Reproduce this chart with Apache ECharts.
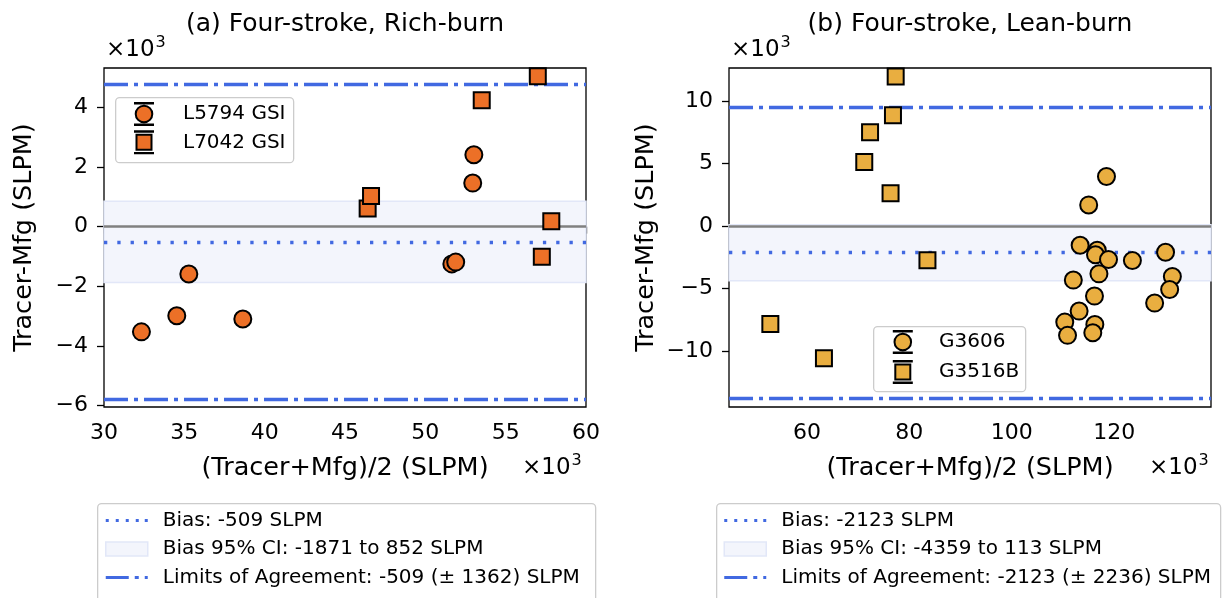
<!DOCTYPE html>
<html><head><meta charset="utf-8">
<script src="https://cdn.jsdelivr.net/npm/echarts@6/dist/echarts.min.js"></script>
<style>html,body{margin:0;padding:0;background:#fff}#c{width:1225px;height:598px}</style>
</head><body><div id="c"></div>
<script>
// ---------- text ----------
const panelTitles = ['(a) Four-stroke, Rich-burn', '(b) Four-stroke, Lean-burn'];
const yAxisTitle = 'Tracer-Mfg (SLPM)';
const xAxisTitle = '(Tracer+Mfg)/2 (SLPM)';

// ---------- panel (a) data (SLPM) ----------
const aCircleName = 'L5794 GSI';
const aCircleX = [32330, 34530, 35280, 38640, 51650, 51890, 53020, 52950];
const aCircleY = [-3530, -2990, -1590, -3100, -1250, -1190, 2410, 1460];
const aSquareName = 'L7042 GSI';
const aSquareX = [46410, 46620, 53510, 57000, 57840, 57250];
const aSquareY = [610, 1030, 4240, 5040, 180, -1010];
const aBias = -509, aCiLow = -1871, aCiHigh = 852, aLoaUp = 4770, aLoaLow = -5790;
const aLegendTexts = ['Bias: -509 SLPM', 'Bias 95% CI: -1871 to 852 SLPM', 'Limits of Agreement: -509 (\u00b1 1362) SLPM'];
const aXTicks = [30000, 35000, 40000, 45000, 50000, 55000, 60000];
const aYTicks = [-6000, -4000, -2000, 0, 2000, 4000];

// ---------- panel (b) data (SLPM) ----------
const bCircleName = 'G3606';
const bCircleX = [118470, 115000, 113330, 116670, 116330, 118870, 123530, 130000, 117000, 112000, 131330, 130800, 116130, 127870, 113130, 110330, 116200, 110870, 115800];
const bCircleY = [3970, 1700, -1520, -1920, -2290, -2660, -2740, -2080, -3810, -4310, -4020, -5060, -5590, -6150, -6790, -7670, -7860, -8730, -8520];
const bSquareName = 'G3516B';
const bSquareX = [77330, 76800, 72330, 71200, 76330, 83530, 52870, 63330];
const bSquareY = [11980, 8870, 7510, 5140, 2640, -2720, -7830, -10570];
const bBias = -2123, bCiLow = -4359, bCiHigh = 113, bLoaUp = 9480, bLoaLow = -13770;
const bLegendTexts = ['Bias: -2123 SLPM', 'Bias 95% CI: -4359 to 113 SLPM', 'Limits of Agreement: -2123 (\u00b1 2236) SLPM'];
const bXTicks = [60000, 80000, 100000, 120000];
const bYTicks = [-10000, -5000, 0, 5000, 10000];

// ---------- styling ----------
const FONT = 'DejaVu Sans';
const BLUE = '#4169E1';
const BAND = '#F3F5FC', BAND_EDGE = '#E2E7F8';
const ZERO = '#808080';
const colA = '#EC7027', colB = '#E9AE40';

const fmt = v => { const t = Math.round(v / 10) / 100; return (t < 0 ? '\u2212' : '') + Math.abs(t); };

// bottom-legend icons drawn in a 62x15 box (visible part 42 px wide, centred)
const ICON_DOT = 'path://M0,0 M62,15 M10,6h3v3h-3z M20,6h3v3h-3z M30,6h3v3h-3z M40,6h3v3h-3z M49,6h3v3h-3z';
const ICON_DASHDOT = 'path://M0,0 M62,15 M10,6h23v3h-23z M39,6h4v3h-4z M49,6h3v3h-3z';
const ICON_BAND = 'path://M0,0 M62,15 M10,0.5h42v14h-42z';
// marker legend icons (marker + error-bar caps)
function capIcon(w, square) {
  const c = w / 2;
  const caps = 'M' + (c - 9) + ',0h18v0.4h-18z M' + (c - 9) + ',21.6h18v0.4h-18z ';
  const body = square ? ('M' + (c - 7.5) + ',3.5h15v15h-15z')
                      : ('M' + (c - 8.3) + ',11a8.3,8.3 0 1,0 16.6,0a8.3,8.3 0 1,0 -16.6,0z');
  return 'path://M0,0 M' + w + ',22 ' + caps + body;
}

function xy(xs, ys) { return xs.map((x, k) => [x, ys[k]]); }

function panelSeries(i, p) {
  const ml = (style, vals) => ({
    silent: true, symbol: ['none', 'none'], label: { show: false }, animation: false,
    emphasis: { disabled: true }, lineStyle: style, data: vals.map(v => ({ yAxis: v }))
  });
  return [
    { name: p.legend[1], type: 'line', xAxisIndex: i, yAxisIndex: i, data: [], color: BAND, z: 1,
      markArea: { silent: true, animation: false, itemStyle: { color: BAND, borderColor: BAND_EDGE, borderWidth: 1.5 },
        data: [[{ yAxis: p.ciLow }, { yAxis: p.ciHigh }]] } },
    { name: 'zero' + i, type: 'line', xAxisIndex: i, yAxisIndex: i, data: [], z: 2,
      markLine: ml({ color: ZERO, width: 2.7, type: 'solid' }, [0]) },
    { name: p.legend[0], type: 'line', xAxisIndex: i, yAxisIndex: i, data: [], color: BLUE, z: 3,
      markLine: ml({ color: BLUE, width: 3.3, type: [3.3, 10], cap: 'butt' }, [p.bias]) },
    { name: p.legend[2], type: 'line', xAxisIndex: i, yAxisIndex: i, data: [], color: BLUE, z: 3,
      markLine: ml({ color: BLUE, width: 3.3, type: [24, 6, 4, 6], cap: 'butt' }, [p.loaUp, p.loaLow]) },
    { name: p.circleName, type: 'scatter', xAxisIndex: i, yAxisIndex: i, symbol: 'circle', symbolSize: 17, z: 10,
      itemStyle: { color: p.color, borderColor: '#000', borderWidth: 2, opacity: 1 }, data: xy(p.circleX, p.circleY) },
    { name: p.squareName, type: 'scatter', xAxisIndex: i, yAxisIndex: i, symbol: 'rect', symbolSize: 16, z: 10,
      itemStyle: { color: p.color, borderColor: '#000', borderWidth: 2, opacity: 1 }, data: xy(p.squareX, p.squareY) }
  ];
}

const pA = { circleName: aCircleName, circleX: aCircleX, circleY: aCircleY, squareName: aSquareName, squareX: aSquareX, squareY: aSquareY,
  color: colA, bias: aBias, ciLow: aCiLow, ciHigh: aCiHigh, loaUp: aLoaUp, loaLow: aLoaLow, legend: aLegendTexts };
const pB = { circleName: bCircleName, circleX: bCircleX, circleY: bCircleY, squareName: bSquareName, squareX: bSquareX, squareY: bSquareY,
  color: colB, bias: bBias, ciLow: bCiLow, ciHigh: bCiHigh, loaUp: bLoaUp, loaLow: bLoaLow, legend: bLegendTexts };

function xAxisOf(i, min, max, ticks) {
  return { gridIndex: i, type: 'value', min: min, max: max, name: xAxisTitle, nameLocation: 'middle', nameGap: 48,
    nameMoveOverlap: false,
    nameTextStyle: { fontSize: 25.5, fontFamily: FONT, color: '#000' },
    axisLine: { show: false }, splitLine: { show: false },
    axisTick: { show: true, inside: false, length: 7, lineStyle: { color: '#000', width: 1.3 }, customValues: ticks },
    axisLabel: { customValues: ticks, formatter: fmt, fontSize: 22, fontFamily: FONT, color: '#000', margin: 15 } };
}
function yAxisOf(i, min, max, ticks, gap) {
  return { gridIndex: i, type: 'value', min: min, max: max, name: yAxisTitle, nameLocation: 'middle', nameGap: gap,
    nameMoveOverlap: false,
    nameTextStyle: { fontSize: 25.5, fontFamily: FONT, color: '#000' },
    axisLine: { show: false }, splitLine: { show: false },
    axisTick: { show: true, inside: false, length: 7, lineStyle: { color: '#000', width: 1.3 }, customValues: ticks },
    axisLabel: { customValues: ticks, formatter: fmt, fontSize: 22, fontFamily: FONT, color: '#000', margin: 16 } };
}

const txt = { fontFamily: FONT, color: '#000', fontWeight: 'normal' };
function offsetTitle(x, y) {
  return { text: '{b|\u00d710}{s|3}', left: x, top: y, padding: 0,
    textStyle: { ...txt, fontSize: 23, rich: { b: { ...txt, fontSize: 23, verticalAlign: 'bottom' },
      s: { ...txt, fontSize: 16, verticalAlign: 'bottom', padding: [0, 0, 11, 1] } } } };
}

function bottomLegend(x, texts) {
  return { orient: 'vertical', left: x, top: 509.5, padding: 0, itemGap: 6.5, itemWidth: 62, itemHeight: 15, z: 6,
    selectedMode: false,
    textStyle: { ...txt, fontSize: 20, lineHeight: 22 },
    data: [
      { name: texts[0], icon: ICON_DOT, itemStyle: { color: BLUE, borderWidth: 0 } },
      { name: texts[1], icon: ICON_BAND, itemStyle: { color: BAND, borderColor: BAND_EDGE, borderWidth: 1.5 } },
      { name: texts[2], icon: ICON_DASHDOT, itemStyle: { color: BLUE, borderWidth: 0 } }
    ] };
}
function innerLegend(x, y, w, gap, names) {
  return { orient: 'vertical', left: x, top: y, padding: 0, itemGap: gap, itemWidth: w, itemHeight: 22, z: 6,
    selectedMode: false,
    textStyle: { ...txt, fontSize: 20, lineHeight: 24 },
    data: [ { name: names[0], icon: capIcon(w, false) }, { name: names[1], icon: capIcon(w, true) } ] };
}
function box(x, y, w, h, fill) {
  return { type: 'rect', left: x, top: y, z: 5, silent: true,
    shape: { x: 0, y: 0, width: w, height: h, r: 4 },
    style: { fill: fill, stroke: '#cccccc', lineWidth: 1.3 } };
}

const option = {
  animation: false,
  backgroundColor: '#fff',
  title: [
    { text: panelTitles[0], left: 345, top: 12, textAlign: 'center', padding: 0, textStyle: { ...txt, fontSize: 25 } },
    { text: panelTitles[1], left: 970, top: 12, textAlign: 'center', padding: 0, textStyle: { ...txt, fontSize: 25 } },
    offsetTitle(106, 35), offsetTitle(731, 35), offsetTitle(522, 453), offsetTitle(1149, 453)
  ],
  grid: [
    { left: 104, top: 68, width: 482, height: 339, show: true, borderColor: '#000', borderWidth: 1.3, backgroundColor: 'transparent', containLabel: false, outerBoundsMode: 'none' },
    { left: 729, top: 68, width: 482, height: 339, show: true, borderColor: '#000', borderWidth: 1.3, backgroundColor: 'transparent', containLabel: false, outerBoundsMode: 'none' }
  ],
  xAxis: [ xAxisOf(0, 30000, 60000, aXTicks), xAxisOf(1, 44800, 138870, bXTicks) ],
  yAxis: [ yAxisOf(0, -6050, 5320, aYTicks, 67), yAxisOf(1, -14460, 12650, bYTicks, 70) ],
  graphic: [
    box(115, 97, 178, 65, 'rgba(255,255,255,0.8)'),
    box(873, 326, 152, 65, 'rgba(255,255,255,0.8)'),
    box(97, 503, 498, 140, '#fff'),
    box(716, 503, 504, 140, '#fff')
  ],
  legend: [
    innerLegend(109, 102, 68, 4.3, [aCircleName, aSquareName]),
    innerLegend(870.5, 330, 62.6, 6, [bCircleName, bSquareName]),
    bottomLegend(95, aLegendTexts),
    bottomLegend(713.5, bLegendTexts)
  ],
  series: [...panelSeries(0, pA), ...panelSeries(1, pB)]
};

const chart = echarts.init(document.getElementById('c'), null, { renderer: 'canvas' });
chart.setOption(option);
</script>
</body></html>
